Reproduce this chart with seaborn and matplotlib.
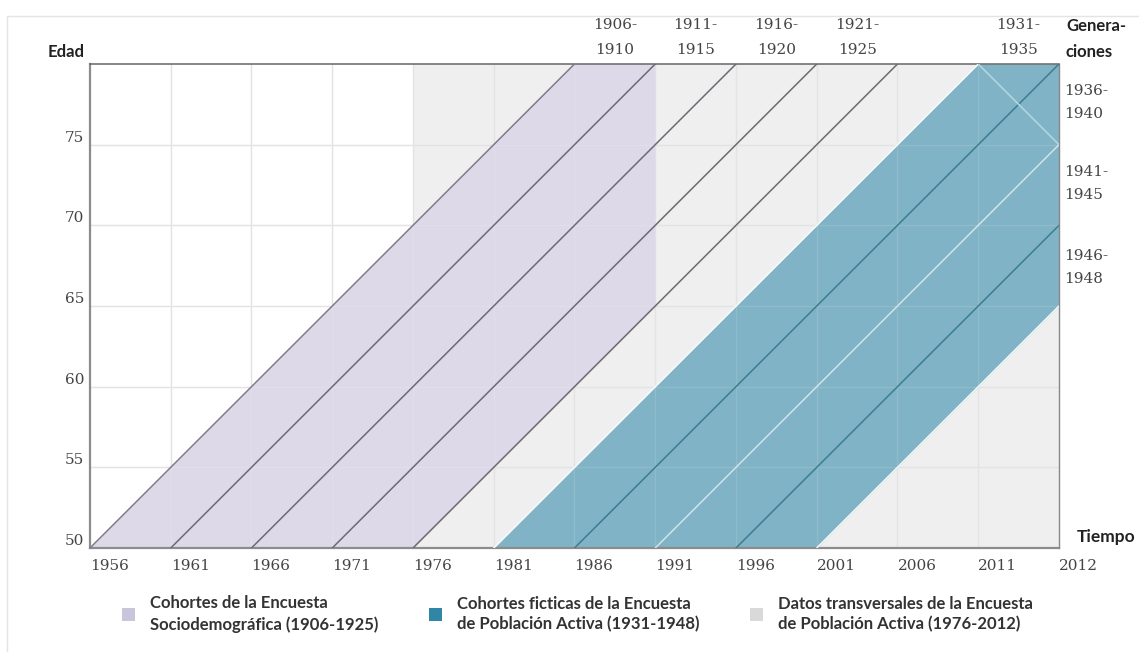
import numpy as np
import pandas as pd
import matplotlib.pyplot as plt
from matplotlib.patches import Patch, Rectangle
import seaborn as sns

# Lexis diagram data
year_min, year_max = 1956, 2016
age_min, age_max = 50, 80
x_ticks = list(range(1956, 2017, 5))
x_tick_labels = ['1956', '1961', '1966', '1971', '1976', '1981', '1986',
                 '1991', '1996', '2001', '2006', '2011', '2012']
y_ticks = [50, 55, 60, 65, 70, 75]

es_cohorts = [1906, 1911, 1916, 1921, 1926]      # Encuesta Sociodemografica
es_survey_year = 1991
epa_cohorts = [1931, 1936, 1941, 1946, 1951]     # Encuesta de Poblacion Activa
epa_start = 1976

top_labels = ['1906-\n1910', '1911-\n1915', '1916-\n1920', '1921-\n1925', '1931-\n1935']
top_label_years = [1988.5, 1993.5, 1998.5, 2003.5, 2013.5]
right_labels = ['1936-\n1940', '1941-\n1945', '1946-\n1948']
right_label_ages = [77.6, 72.6, 67.4]

legend_labels = ['Cohortes de la Encuesta\nSociodemográfica (1906-1925)',
                 'Cohortes ficticas de la Encuesta\nde Población Activa (1931-1948)',
                 'Datos transversales de la Encuesta\nde Población Activa (1976-2012)']

purple_fill = '#ddd9e9'
teal_fill = '#7fb3c5'
grey_fill = '#efefef'
legend_colors = ['#c9c5dd', '#2f86a6', '#d9d9d9']

sns.set_style('white')
plt.rcParams['font.family'] = ['Lato', 'DejaVu Sans']

fig = plt.figure(figsize=(11.39, 6.52), dpi=100)
ax = fig.add_axes([90 / 1139, 1 - 548 / 652, 969 / 1139, 484 / 652])
ax.set_xlim(year_min, year_max)
ax.set_ylim(age_min, age_max)

# background: cross-sectional EPA data
ax.axvspan(epa_start, year_max, color=grey_fill, zorder=0, lw=0)

# grid below the bands
for xv in x_ticks[1:-1]:
    ax.axvline(xv, color='#e0e0e0', lw=1, zorder=0.5)
for yv in y_ticks[1:]:
    ax.axhline(yv, color='#e0e0e0', lw=1, zorder=0.5)

# ES cohorts band (clipped at survey year)
xs = np.linspace(year_min, es_survey_year, 400)
ax.fill_between(xs, np.clip(xs - es_cohorts[-1], age_min, age_max),
                np.clip(xs - es_cohorts[0], age_min, age_max),
                color=purple_fill, lw=0, zorder=1)

# EPA fictitious cohorts band
xt = np.linspace(epa_cohorts[0] + age_min, year_max, 400)
ax.fill_between(xt, np.clip(xt - epa_cohorts[-1], age_min, age_max),
                np.clip(xt - epa_cohorts[0], age_min, age_max),
                color=teal_fill, lw=0, zorder=1)

# faint grid showing through the bands
for xv in x_ticks[1:-1]:
    ax.axvline(xv, color='#ffffff', lw=1, alpha=0.12, zorder=2)
for yv in y_ticks[1:]:
    ax.axhline(yv, color='#ffffff', lw=1, alpha=0.12, zorder=2)

# cohort lines
rows = []
for c in es_cohorts + epa_cohorts:
    x0 = c + age_min
    x1 = min(c + age_max, year_max)
    for x in (x0, x1):
        rows.append({'cohort': str(c), 'year': x, 'age': x - c})
lines = pd.DataFrame(rows)
palette = {'1906': '#7d7a8c', '1911': '#6b6b72', '1916': '#6b6b72',
           '1921': '#6b6b72', '1926': '#6b6b72',
           '1931': '#f4fafc', '1936': '#3d7d94', '1941': '#cfe4ec',
           '1946': '#3d7d94', '1951': '#f4fafc'}
sns.lineplot(data=lines, x='year', y='age', hue='cohort', units='cohort',
             estimator=None, palette=palette, lw=1.1, legend=False, ax=ax,
             zorder=3)
# light descending mark in the top-right corner
ax.plot([2011, 2016], [80, 75], color='#b3d5e2', lw=1.2, zorder=3)

# axes look
ax.grid(False)
ax.set_xticks(x_ticks)
ax.set_xticklabels(x_tick_labels)
ax.set_yticks(y_ticks)
ax.set_xlabel('')
ax.set_ylabel('')
ax.tick_params(length=0, labelsize=11, colors='#444444', pad=8)
for lab in ax.get_xticklabels():
    lab.set_horizontalalignment('left')
    lab.set_fontfamily('DejaVu Serif')
for lab in ax.get_yticklabels():
    lab.set_verticalalignment('bottom')
    lab.set_fontfamily('DejaVu Serif')
ax.tick_params(axis='y', pad=4)
for side in ('left', 'bottom'):
    ax.spines[side].set_color('#8c8c8c')
    ax.spines[side].set_linewidth(1.6)
ax.spines['top'].set_color('#666666')
ax.spines['top'].set_linewidth(1.1)
ax.spines['right'].set_color('#888888')
ax.spines['right'].set_linewidth(1.0)

# generation labels
for lab, yr in zip(top_labels, top_label_years):
    ax.text(yr, age_max + 0.45, lab, ha='center', va='bottom', fontsize=11,
            color='#444444', family='DejaVu Serif', linespacing=1.95)
for lab, ag in zip(right_labels, right_label_ages):
    ax.text(year_max + 0.3, ag, lab, ha='left', va='center', fontsize=11,
            color='#444444', family='DejaVu Serif', linespacing=1.8)

fig.text(85 / 1139, 1 - 52 / 652, 'Edad', ha='right', va='center',
         fontsize=12, fontweight='bold', color='#222222')
fig.text(1066 / 1139, 1 - 39 / 652, 'Genera-\nciones', ha='left', va='center',
         fontsize=12, fontweight='bold', color='#222222', linespacing=1.75)
fig.text(1077 / 1139, 1 - 537 / 652, 'Tiempo', ha='left', va='center',
         fontsize=12.5, fontweight='bold', color='#222222')

# legend
handles = [Patch(facecolor=c, edgecolor='none') for c in legend_colors]
leg = fig.legend(handles, legend_labels, loc='center', ncol=3,
                 bbox_to_anchor=(0.507, 1 - 614 / 652), frameon=False,
                 handlelength=0.8, handleheight=0.8,
                 columnspacing=3.0, handletextpad=0.9, labelcolor='#333333',
                 prop={'weight': 'bold', 'size': 12})
for t in leg.get_texts():
    t.set_linespacing(1.35)

# faint outer frame
fig.patches.append(Rectangle((7 / 1139, -0.05), 1.1, 1.05 - 16 / 652,
                             transform=fig.transFigure, fill=False,
                             edgecolor='#e4e4e4', lw=1))

fig.savefig('out.png', dpi=100)
